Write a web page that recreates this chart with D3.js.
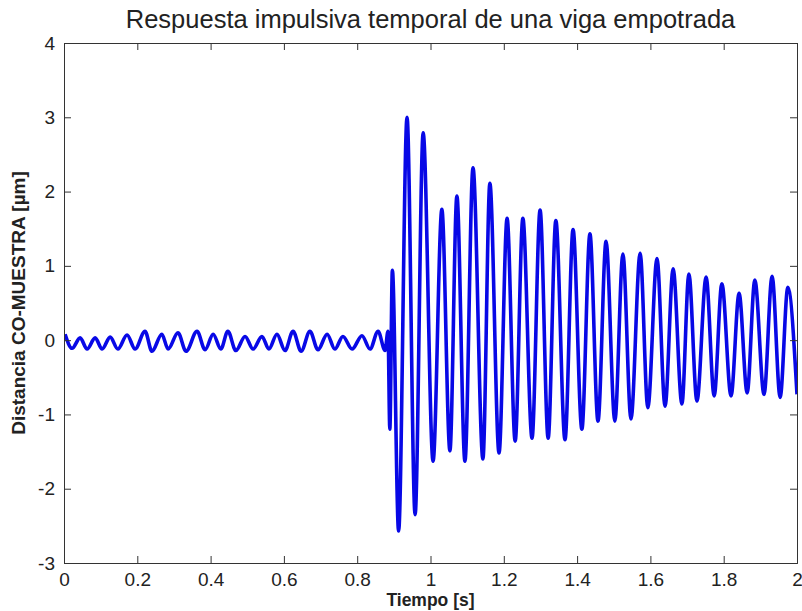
<!DOCTYPE html>
<html>
<head>
<meta charset="utf-8">
<script src="https://cdn.jsdelivr.net/npm/d3@7"></script>
<style>
  body { margin: 0; background: #fff; }
  text { font-family: "Liberation Sans", Arial, sans-serif; fill: #222; }
</style>
</head>
<body>
<div id="chart"></div>
<script>
// extremos de la señal (tiempo en s, distancia en um)
var tiempoReposo = [0.003, 0.022, 0.044, 0.063, 0.085, 0.104, 0.126, 0.147, 0.172, 0.194,
  0.221, 0.240, 0.267, 0.284, 0.311, 0.333, 0.363, 0.385, 0.407, 0.428,
  0.447, 0.469, 0.494, 0.516, 0.540, 0.559, 0.581, 0.603, 0.625, 0.647,
  0.671, 0.693, 0.718, 0.739, 0.761, 0.786, 0.813, 0.835, 0.857, 0.876, 0.884];
var distanciaReposo = [0.08, -0.11, 0.03, -0.12, 0.03, -0.12, 0.04, -0.12, 0.07, -0.12,
  0.12, -0.15, 0.08, -0.12, 0.10, -0.15, 0.12, -0.13, 0.08, -0.12,
  0.12, -0.14, 0.05, -0.12, 0.05, -0.12, 0.08, -0.14, 0.12, -0.15,
  0.12, -0.13, 0.08, -0.12, 0.05, -0.12, 0.06, -0.12, 0.12, -0.14, 0.12];

var tiempoImpulso = [0.889, 0.896, 0.913, 0.936, 0.958, 0.980, 1.007, 1.031, 1.053, 1.072,
  1.094, 1.116, 1.143, 1.162, 1.187, 1.209, 1.231, 1.252, 1.277, 1.299,
  1.321, 1.342, 1.367, 1.389, 1.413, 1.435, 1.457, 1.479, 1.503, 1.525,
  1.547, 1.572, 1.593, 1.618, 1.640, 1.662, 1.686, 1.705, 1.727, 1.752,
  1.774, 1.795, 1.820, 1.842, 1.864, 1.885, 1.910, 1.932, 1.954, 1.975, 2.0];
var distanciaImpulso = [-1.2, 0.94, -2.57, 3.0, -2.35, 2.79, -1.63, 1.76, -1.49, 1.94,
  -1.63, 2.32, -1.60, 2.11, -1.52, 1.64, -1.36, 1.64, -1.32, 1.75,
  -1.32, 1.61, -1.34, 1.49, -1.20, 1.43, -1.09, 1.33, -1.09, 1.16,
  -1.06, 1.17, -0.91, 1.10, -0.89, 0.96, -0.86, 0.89, -0.82, 0.85,
  -0.75, 0.76, -0.75, 0.63, -0.71, 0.81, -0.73, 0.86, -0.77, 0.71, -0.73];

var xTicks = [0, 0.2, 0.4, 0.6, 0.8, 1, 1.2, 1.4, 1.6, 1.8, 2];
var yTicks = [-3, -2, -1, 0, 1, 2, 3, 4];

var W = 802, H = 611;
var margin = {left: 64, top: 43, right: 5, bottom: 48};
var w = W - margin.left - margin.right,
    h = H - margin.top - margin.bottom;

var svg = d3.select("#chart").append("svg")
  .attr("width", W).attr("height", H);

var x = d3.scaleLinear().domain([0, 2]).range([0, w]);
var y = d3.scaleLinear().domain([-3, 4]).range([h, 0]);

var g = svg.append("g").attr("transform", "translate(" + margin.left + "," + margin.top + ")");

// datos juntos
var datos = [];
tiempoReposo.forEach(function(t, i) { datos.push([t, distanciaReposo[i]]); });
tiempoImpulso.forEach(function(t, i) { datos.push([t, distanciaImpulso[i]]); });

g.append("clipPath").attr("id", "clip")
  .append("rect").attr("width", w).attr("height", h);

var linea = d3.line()
  .x(function(d) { return x(d[0]); })
  .y(function(d) { return y(d[1]); })
  .curve(d3.curveMonotoneX);

g.append("path")
  .datum(datos)
  .attr("clip-path", "url(#clip)")
  .attr("fill", "none")
  .attr("stroke", "#0808e6")
  .attr("stroke-width", 3.6)
  .attr("stroke-linejoin", "round")
  .attr("d", linea);

// ejes con ticks hacia dentro, estilo matlab
var fmt = function(d) { return String(d); };
var axB = g.append("g").attr("transform", "translate(0," + h + ")")
  .call(d3.axisBottom(x).tickValues(xTicks).tickSize(-7).tickPadding(10).tickFormat(fmt));
var axT = g.append("g")
  .call(d3.axisTop(x).tickValues(xTicks).tickSize(-7).tickFormat(""));
var axL = g.append("g")
  .call(d3.axisLeft(y).tickValues(yTicks).tickSize(-7).tickPadding(9).tickFormat(fmt));
var axR = g.append("g").attr("transform", "translate(" + w + ",0)")
  .call(d3.axisRight(y).tickValues(yTicks).tickSize(-7).tickFormat(""));

[axB, axT, axL, axR].forEach(function(a) {
  a.select(".domain").attr("stroke", "#333").attr("stroke-width", 1);
  a.selectAll(".tick line").attr("stroke", "#333");
  a.selectAll("text").style("font-size", "19px").attr("fill", "#333");
});

svg.append("text")
  .attr("x", margin.left + w / 2).attr("y", 28)
  .attr("text-anchor", "middle")
  .style("font-size", "25.5px")
  .text("Respuesta impulsiva temporal de una viga empotrada");

svg.append("text")
  .attr("x", margin.left + w / 2).attr("y", 606)
  .attr("text-anchor", "middle")
  .style("font-size", "17.5px").style("font-weight", "bold")
  .text("Tiempo [s]");

svg.append("text")
  .attr("transform", "translate(25," + (margin.top + h / 2) + ") rotate(-90)")
  .attr("text-anchor", "middle")
  .style("font-size", "19px").style("font-weight", "bold")
  .text("Distancia CO-MUESTRA [µm]");
</script>
</body>
</html>
